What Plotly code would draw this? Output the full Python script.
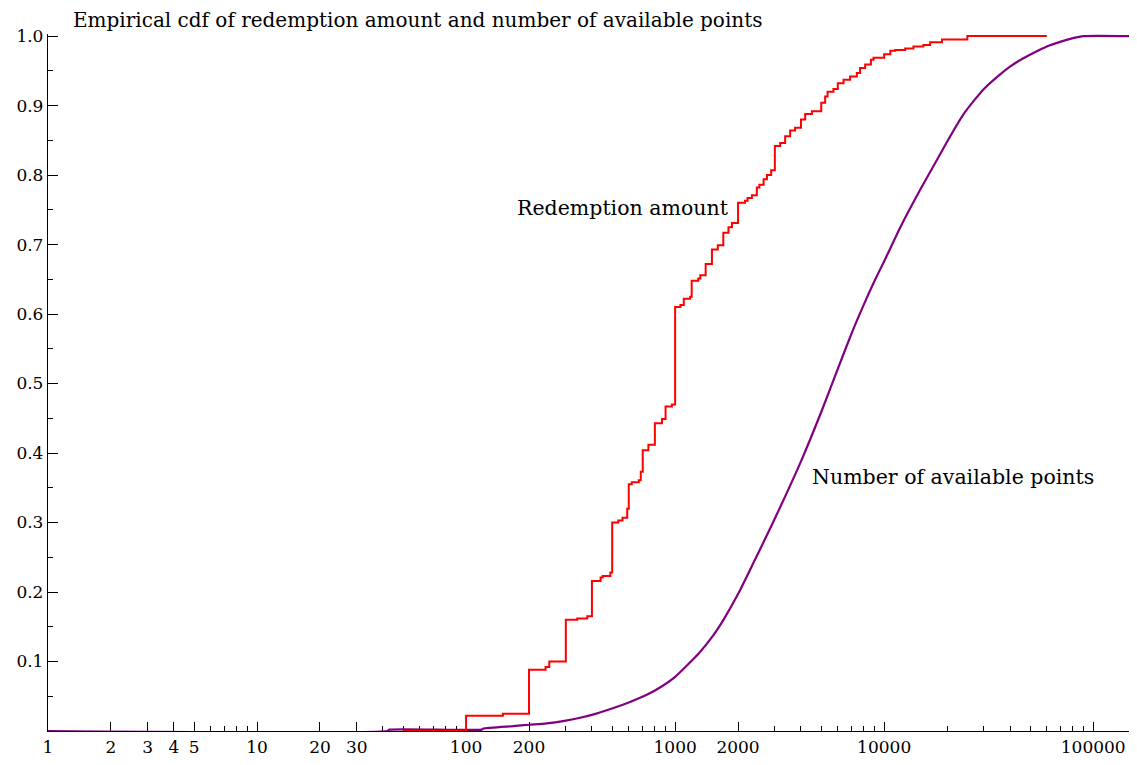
import plotly.graph_objects as go

# Redemption amount empirical CDF (step points: x where the step occurs, cdf after step)
redemption_x = [50, 100, 150, 200, 240, 250, 300, 340, 380, 400, 440, 450, 490, 500, 535, 560,
                590, 600, 620, 670, 685, 700, 745, 800, 865, 900, 965, 1000, 1060, 1100, 1180,
                1200, 1290, 1320, 1400, 1500, 1600, 1700, 1800, 1870, 2000, 2160, 2220, 2330,
                2460, 2530, 2650, 2750, 2880, 3000, 3180, 3360, 3550, 3750, 4000, 4190, 4510,
                5000, 5220, 5360, 5720, 6000, 6390, 6870, 7400, 7670, 8110, 8640, 8890, 10000,
                10700, 11300, 12600, 13800, 15400, 16600, 18900, 25000, 60000]
redemption_cdf = [0.0, 0.022, 0.025, 0.088, 0.092, 0.100, 0.160, 0.162, 0.165, 0.216, 0.221, 0.223,
                  0.228, 0.300, 0.303, 0.307, 0.320, 0.355, 0.358, 0.361, 0.373, 0.404, 0.412, 0.443,
                  0.449, 0.467, 0.470, 0.610, 0.613, 0.622, 0.625, 0.648, 0.651, 0.656, 0.672, 0.693,
                  0.699, 0.717, 0.725, 0.731, 0.760, 0.763, 0.767, 0.771, 0.782, 0.786, 0.794, 0.800,
                  0.807, 0.842, 0.846, 0.856, 0.864, 0.868, 0.880, 0.888, 0.892, 0.904, 0.913, 0.920,
                  0.924, 0.932, 0.937, 0.942, 0.947, 0.954, 0.959, 0.966, 0.969, 0.974, 0.979, 0.980,
                  0.982, 0.985, 0.987, 0.991, 0.995, 1.0, 1.0]

# Number of available points empirical CDF
points_x = [1, 42, 43, 119, 121, 168, 200, 243, 300, 351, 420, 507, 600, 732, 850, 1000, 1300,
            1500, 1703, 2000, 2370, 2700, 3180, 4000, 5000, 6000, 7000, 8000, 9000, 10000, 12000,
            15000, 17900, 20000, 23900, 26700, 30000, 35900, 40000, 45000, 52000, 60000, 70000,
            80000, 90000, 150000]
points_cdf = [0.0, 0.0, 0.002, 0.002, 0.0036, 0.007, 0.009, 0.011, 0.015, 0.019, 0.025, 0.033,
              0.041, 0.052, 0.063, 0.078, 0.112, 0.135, 0.160, 0.197, 0.242, 0.277, 0.322, 0.388,
              0.459, 0.521, 0.573, 0.614, 0.648, 0.676, 0.726, 0.781, 0.822, 0.848, 0.887, 0.906,
              0.924, 0.945, 0.956, 0.966, 0.976, 0.985, 0.992, 0.997, 1.0, 1.0]

x_major = [1, 2, 3, 4, 5, 10, 20, 30, 100, 200, 1000, 2000, 10000, 100000]
x_major_text = ["1", "2", "3", "4", "5", "10", "20", "30", "100", "200", "1000", "2000", "10000", "100000"]
x_minor = [6, 7, 8, 9, 40, 50, 60, 70, 80, 90, 300, 400, 500, 600, 700, 800, 900,
           3000, 4000, 5000, 6000, 7000, 8000, 9000, 20000, 30000, 40000, 50000, 60000,
           70000, 80000, 90000]
y_major = [0.1, 0.2, 0.3, 0.4, 0.5, 0.6, 0.7, 0.8, 0.9, 1.0]
y_major_text = ["0.1", "0.2", "0.3", "0.4", "0.5", "0.6", "0.7", "0.8", "0.9", "1.0"]
y_minor = [0.05, 0.15, 0.25, 0.35, 0.45, 0.55, 0.65, 0.75, 0.85, 0.95]

FONT = "DejaVu Serif"
TEXT_SIZE = 20.5
TITLE_SIZE = 20
TICK_SIZE = 17

fig = go.Figure()
fig.add_trace(go.Scatter(x=points_x, y=points_cdf, mode="lines",
                         line=dict(color="#800080", width=2.2, shape="spline", smoothing=0.5),
                         name="Number of available points"))
fig.add_trace(go.Scatter(x=redemption_x, y=redemption_cdf, mode="lines",
                         line=dict(color="#FF0000", width=2, shape="hv"), name="Redemption amount"))

fig.update_layout(
    width=1137, height=765,
    margin=dict(l=40, r=15, t=26, b=41.5, autoexpand=False),
    paper_bgcolor="white", plot_bgcolor="white",
    showlegend=False,
    font=dict(family=FONT, size=TICK_SIZE, color="black"),
    xaxis=dict(type="log", range=[0, 5.176], showgrid=False, zeroline=False, automargin=False,
               showline=True, linecolor="black", linewidth=1.3, layer="below traces",
               ticks="inside", ticklen=9, tickwidth=1.2, tickcolor="black",
               tickmode="array", tickvals=x_major, ticktext=x_major_text,
               tickfont=dict(family=FONT, size=TICK_SIZE),
               minor=dict(tickmode="array", tickvals=x_minor, ticks="inside",
                          ticklen=5, tickwidth=1.2, tickcolor="black", showgrid=False)),
    yaxis=dict(range=[0, 1.003], showgrid=False, zeroline=False, automargin=False,
               showline=True, linecolor="black", linewidth=1.3, layer="below traces",
               ticks="inside", ticklen=10, tickwidth=1.2, tickcolor="black",
               tickmode="array", tickvals=y_major, ticktext=y_major_text,
               tickfont=dict(family=FONT, size=TICK_SIZE),
               minor=dict(tickmode="array", tickvals=y_minor, ticks="inside",
                          ticklen=5, tickwidth=1.2, tickcolor="black", showgrid=False)),
    annotations=[
        dict(text="Empirical cdf of redemption amount and number of available points",
             xref="paper", yref="paper", x=0.0222, y=1.0195, xanchor="left", yanchor="middle",
             showarrow=False, borderpad=0, font=dict(family=FONT, size=TITLE_SIZE)),
        dict(text="Redemption amount", xref="paper", yref="paper", x=0.5314, y=0.7507,
             xanchor="center", yanchor="middle", showarrow=False, font=dict(family=FONT, size=TEXT_SIZE)),
        dict(text="Number of available points", xref="paper", yref="paper", x=0.8364, y=0.3639,
             xanchor="center", yanchor="middle", showarrow=False, font=dict(family=FONT, size=TEXT_SIZE)),
    ],
)

fig.write_html("out.html")
